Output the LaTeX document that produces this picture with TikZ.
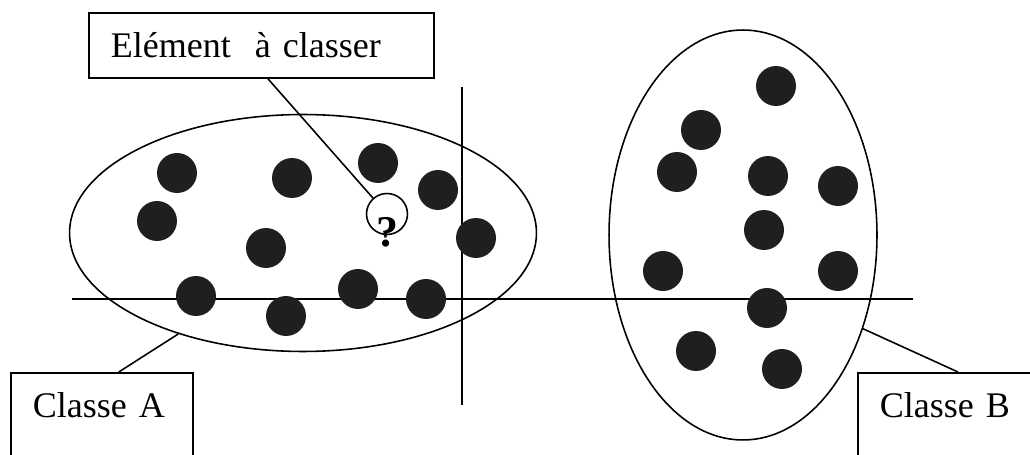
\documentclass[tikz,border=0pt]{standalone}
\usepackage{fontspec}
\setmainfont{Liberation Serif}
\usepackage{tikz}
\usetikzlibrary{shapes.geometric}

\begin{document}
\begin{tikzpicture}[
    x=0.02cm, y=-0.02cm,
    line width=0.9pt,
    font=\fontsize{20.5}{24}\selectfont,
    lab/.style={draw, anchor=north west, align=left, inner xsep=0.44cm, inner ysep=0.35cm,
                text height=0.55cm, text depth=0.05cm},
    grp/.style={draw, ellipse, inner sep=0pt},
    pt/.style={circle, fill=black!88, inner sep=0pt, minimum size=0.8cm},
    qn/.style={draw, circle, fill=white, inner sep=0pt, minimum size=0.82cm},
]
\useasboundingbox (0,0) rectangle (1030,455);
% px coordinates, y downwards
% ---------------- groups and separating lines ----------------
\node[grp, minimum width=9.34cm, minimum height=4.74cm] (ellA) at (303,233) {};
\node[grp, minimum width=5.36cm, minimum height=8.2cm] (ellB) at (743,235) {};
\coordinate (hl) at (72,299);
\coordinate (hr) at (913,299);
\coordinate (vt) at (462,87);
\coordinate (vb) at (462,405);
\draw (hl) -- (hr);
\draw (vt) -- (vb);

% ---------------- class A points ----------------
\node[pt] (a1) at (177,173) {};
\node[pt] (a2) at (292,178) {};
\node[pt] (a3) at (378,163) {};
\node[pt] (a4) at (438,190) {};
\node[pt] (a5) at (157,221) {};
\node[pt] (a6) at (266,248) {};
\node[pt] (a7) at (476,238) {};
\node[pt] (a8) at (196,296) {};
\node[pt] (a9) at (286,316) {};
\node[pt] (a10) at (358,289) {};
\node[pt] (a11) at (426,299) {};

% ---------------- class B points ----------------
\node[pt] (b1) at (776,86) {};
\node[pt] (b2) at (701,130) {};
\node[pt] (b3) at (677,172) {};
\node[pt] (b4) at (768,176) {};
\node[pt] (b5) at (838,186) {};
\node[pt] (b6) at (764,230) {};
\node[pt] (b7) at (663,271) {};
\node[pt] (b8) at (838,271) {};
\node[pt] (b9) at (767,308) {};
\node[pt] (b10) at (696,351) {};
\node[pt] (b11) at (782,369) {};

% ---------------- element to classify ----------------
\node[qn] (q) at (387,214) {};
\node[font=\bfseries\fontsize{25}{25}\selectfont] (qm) at (387,232) {?};

% ---------------- labels ----------------
\node[lab, text width=6.02cm] (elem) at (88,12) {Elément\ \ à classer};
\node[lab, text width=2.76cm, text depth=1.3cm] (clA) at (10,372) {Classe A};
\node[lab, text width=4cm, text depth=1.3cm] (clB) at (857,372) {Classe B};
\draw ([xshift=0.13cm]elem.south) -- (q);
\draw ([xshift=0.34cm]clA.north) -- (ellA.219);
\draw ([xshift=2.02cm]clB.north west) -- (ellB.322);
\end{tikzpicture}
\end{document}
